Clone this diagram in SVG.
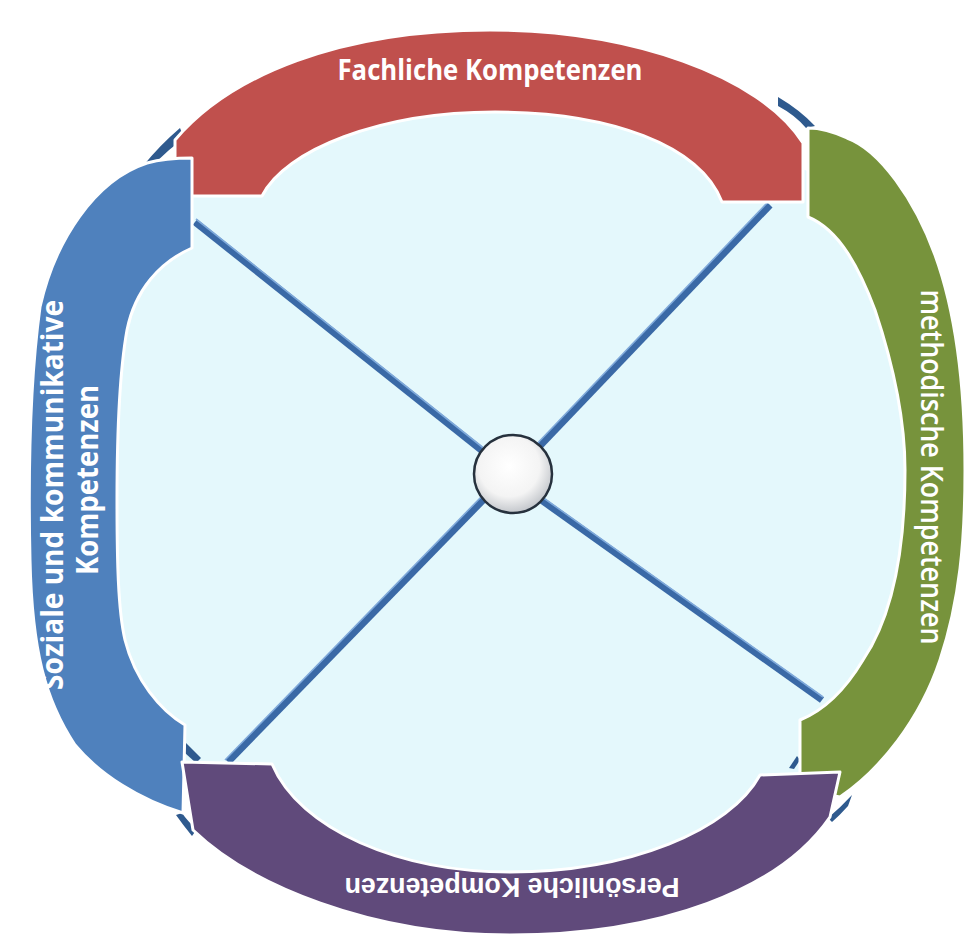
<svg xmlns="http://www.w3.org/2000/svg" width="974" height="941" viewBox="0 0 974 941">
<defs>
<radialGradient id="ballGrad" cx="0.45" cy="0.4" r="0.65">
<stop offset="0" stop-color="#ffffff"/>
<stop offset="0.6" stop-color="#f4f4f4"/>
<stop offset="1" stop-color="#b8bcc2"/>
</radialGradient>
<style>
.band{stroke:#ffffff;stroke-width:3;stroke-linejoin:round}
.lbl{fill:#ffffff;font-family:"Open Sans","Liberation Sans",sans-serif;font-weight:700}
.spoke{stroke:#3A69A6;stroke-width:7;stroke-linecap:butt}
.spokeHi{stroke:#7FA9DA;stroke-width:1.6}
.tip{fill:#2F5A8E}
</style>
</defs>
<rect width="974" height="941" fill="#ffffff"/>
<path fill="#E4F8FC" d="M150,230 L210,160 Q490,20 780,160 L830,180 Q1000,460 850,740 L815,795 Q510,1010 215,800 L160,760 Q20,470 150,230 Z"/>

<g id="corner-tips">
<path class="tip" d="M143,166 Q160,145 180,128 L184,138 Q168,150 155,163 Z"/>
<path class="tip" d="M778,97 Q800,110 815,126 L806,128 Q795,115 778,106 Z"/>
<path class="tip" d="M828,818 Q840,808 852,795 L848,806 Q840,815 832,822 Z"/>
<path class="tip" d="M789,768 L797,756 L800,760 L794,769 Z"/>
<path class="tip" d="M176,815 Q183,825 192,836 L197,829 Q188,822 182,813 Z"/>
<path class="tip" d="M185,742 L201,758 L196,763 L185,753 Z"/>
</g>

<g id="connectors">
<line class="spoke" x1="195" y1="222" x2="490" y2="457"/>
<line class="spoke" x1="770" y1="205" x2="535" y2="451"/>
<line class="spoke" x1="822" y1="700" x2="537" y2="497"/>
<line class="spoke" x1="228" y1="762" x2="487" y2="496"/>
<line class="spokeHi" x1="196" y1="219" x2="491" y2="454"/>
<line class="spokeHi" x1="767" y1="203" x2="532" y2="449"/>
<line class="spokeHi" x1="823" y1="697" x2="538" y2="494"/>
<line class="spokeHi" x1="225" y1="760" x2="484" y2="494"/>
</g>

<g id="node-fachlich">
<path class="band" fill="#C0504D" d="M175,196 L262,196 C285,150 380,112 495,112 C610,112 700,145 722,202 L803,202 L803,143 C760,75 630,30 490,30 C340,30 230,75 175,140 Z"/>
<text class="lbl" x="490" y="80" font-size="29" text-anchor="middle" textLength="305" lengthAdjust="spacingAndGlyphs">Fachliche Kompetenzen</text>
</g>

<g id="node-methodisch">
<path class="band" fill="#77933C" d="M808,128 L808,217 C840,230 860,270 875,310 C895,370 905,420 905,470 C905,560 890,620 863,660 C845,690 825,710 800,720 L800,790 L840,797 C880,770 920,720 940,660 C960,600 965,540 965,470 C965,380 955,310 935,255 C915,200 880,150 847,138 C830,130 815,128 808,128 Z"/>
<text class="lbl" style="font-weight:600" x="0" y="0" font-size="30" text-anchor="middle" textLength="355" lengthAdjust="spacingAndGlyphs" transform="translate(921,467) rotate(90)">methodische Kompetenzen</text>
</g>

<g id="node-sozial">
<path class="band" fill="#4F81BD" d="M192,158 L192,248 C160,262 135,290 127,330 C118,380 117,450 117,500 C117,560 118,610 125,640 C135,680 160,710 185,725 L183,813 C140,800 100,775 75,745 C45,700 32,650 30,560 C28,470 30,380 40,307 C55,240 95,180 147,163 C165,158 180,158 192,158 Z"/>
<text class="lbl" x="0" y="0" font-size="30" text-anchor="middle" textLength="390" lengthAdjust="spacingAndGlyphs" transform="translate(63,495) rotate(-90)">Soziale und kommunikative</text>
<text class="lbl" x="0" y="0" font-size="30" text-anchor="middle" textLength="190" lengthAdjust="spacingAndGlyphs" transform="translate(98,480) rotate(-90)">Kompetenzen</text>
</g>

<g id="node-persoenlich">
<path class="band" fill="#604A7B" d="M182,762 L272,764 C300,830 400,872 510,872 C630,872 730,830 760,775 L840,772 L830,817 C780,890 660,935 510,935 C370,935 250,885 193,830 Z"/>
<text class="lbl" style="font-family:'Liberation Sans',Arial,sans-serif" x="0" y="0" font-size="27" text-anchor="middle" textLength="335" lengthAdjust="spacingAndGlyphs" transform="translate(512,878) rotate(180)">Persönliche Kompetenzen</text>
</g>

<g id="node-center">
<circle cx="513" cy="474" r="39" fill="url(#ballGrad)" stroke="#26313d" stroke-width="2.5"/>
</g>
</svg>
